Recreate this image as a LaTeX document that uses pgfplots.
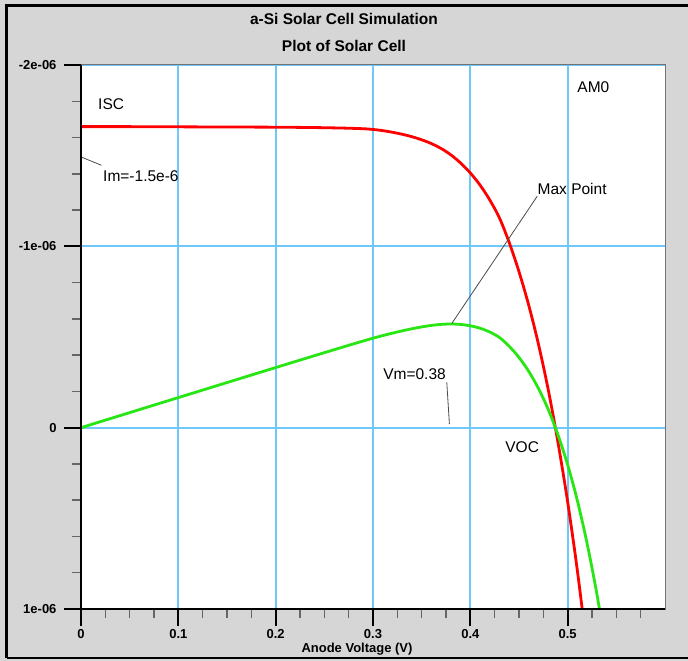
\documentclass[border=0pt]{standalone}
\usepackage{pgfplots}
\pgfplotsset{compat=1.18}
\usepackage{fontspec}
\setmainfont{Liberation Sans}
\definecolor{bggray}{RGB}{214,214,214}
\definecolor{gridblue}{RGB}{110,200,250}
\definecolor{curvered}{RGB}{255,0,0}
\definecolor{curvegreen}{RGB}{40,230,20}
\newcommand{\ann}{\fontsize{15.5bp}{18bp}\selectfont}
\newcommand{\tck}{\bfseries\fontsize{13bp}{15bp}\selectfont}
\begin{document}
\begin{tikzpicture}[x=1bp,y=1bp]
\useasboundingbox (0,0) rectangle (688,661);
\fill[bggray] (0,0) rectangle (688,661);
\draw[black, line width=3bp] (6.5,2.5) -- (6.5,655.5) -- (700,655.5);
\draw[black, line width=2bp] (6.5,2.5) -- (700,2.5);
\node[font=\bfseries\fontsize{15.5bp}{18bp}\selectfont] at (344,642) {a-Si Solar Cell Simulation};
\node[font=\bfseries\fontsize{15.5bp}{18bp}\selectfont] at (344,615) {Plot of Solar Cell};
\node[font=\bfseries\fontsize{13bp}{15bp}\selectfont] at (357,12) {Anode Voltage (V)};
\begin{axis}[
  at={(81bp,52bp)}, anchor=south west,
  scale only axis, width=584bp, height=544bp,
  xmin=0, xmax=0.6, ymin=-2, ymax=1, y dir=reverse,
  axis background/.style={fill=white},
  xtick={0,0.1,0.2,0.3,0.4,0.5}, xticklabels={0,0.1,0.2,0.3,0.4,0.5},
  ytick={-2,-1,0,1}, yticklabels={-2e-06,-1e-06,0,1e-06},
  minor xtick={0.025,0.05,0.075,0.125,0.15,0.175,0.225,0.25,0.275,0.325,0.35,0.375,0.425,0.45,0.475,0.525,0.55,0.575},
  minor ytick={-1.8,-1.6,-1.4,-1.2,-0.8,-0.6,-0.4,-0.2,0.2,0.4,0.6,0.8},
  xtick pos=bottom, ytick pos=left,
  tick align=outside,
  major tick length=17bp, minor tick length=9bp,
  every major tick/.style={black, line width=2bp},
  every minor tick/.style={black!60, line width=1.5bp},
  xmajorgrids, ymajorgrids,
  major grid style={gridblue, line width=2bp},
  axis line style={draw=black!55, line width=1bp},
  xticklabel style={font=\tck},
  yticklabel style={font=\tck, xshift=-4bp},
  clip=true,
]
\addplot[curvered, line width=2.8bp, smooth] coordinates {
(0,-1.660) (0.05,-1.660) (0.10,-1.659) (0.15,-1.658) (0.20,-1.657) (0.24,-1.655)
(0.27,-1.652) (0.29,-1.6485) (0.30,-1.6445) (0.31,-1.638) (0.32,-1.629) (0.33,-1.618) (0.34,-1.6045)
(0.35,-1.5875) (0.36,-1.5665) (0.37,-1.5395) (0.38,-1.5045) (0.39,-1.4595) (0.40,-1.4045)
(0.41,-1.3375) (0.42,-1.2555) (0.43,-1.1555) (0.44,-1.02) (0.45,-0.86) (0.46,-0.675)
(0.47,-0.46) (0.48,-0.21) (0.49,0.08) (0.50,0.41) (0.51,0.79) (0.52,1.23) (0.53,1.73) (0.54,2.30)
};
\addplot[curvegreen, line width=2.8bp, smooth] coordinates {
(0,0) (0.05,-0.083) (0.10,-0.1659) (0.15,-0.2487) (0.20,-0.3314) (0.24,-0.3972)
(0.27,-0.446) (0.29,-0.4781) (0.30,-0.4934) (0.31,-0.5078) (0.32,-0.5213) (0.33,-0.5339) (0.34,-0.5455)
(0.35,-0.5556) (0.36,-0.5639) (0.37,-0.5696) (0.38,-0.5717) (0.39,-0.5692) (0.40,-0.5618)
(0.41,-0.5484) (0.42,-0.5273) (0.43,-0.4969) (0.44,-0.4488) (0.45,-0.387) (0.46,-0.3105)
(0.47,-0.2162) (0.48,-0.1008) (0.49,0.0392) (0.50,0.205) (0.51,0.4029) (0.52,0.6396) (0.53,0.9169) (0.54,1.242)
};
\draw[black!70, line width=0.8bp] (axis cs:0,-1.493) -- (axis cs:0.021,-1.447);
\draw[black!70, line width=0.8bp] (axis cs:0.4687,-1.276) -- (axis cs:0.381,-0.575);
\draw[black!70, line width=0.8bp] (axis cs:0.3758,-0.25) -- (axis cs:0.3785,-0.02);
\node[anchor=west, inner sep=0pt, font=\ann] at (axis cs:0.0175,-1.785) {ISC};
\node[anchor=west, inner sep=0pt, font=\ann] at (axis cs:0.0226,-1.387) {Im=-1.5e-6};
\node[anchor=west, inner sep=0pt, font=\ann] at (axis cs:0.5098,-1.878) {AM0};
\node[anchor=west, inner sep=0pt, font=\ann] at (axis cs:0.469,-1.315) {Max Point};
\node[anchor=west, inner sep=0pt, font=\ann] at (axis cs:0.3104,-0.293) {Vm=0.38};
\node[anchor=west, inner sep=0pt, font=\ann] at (axis cs:0.4358,0.108) {VOC};
\end{axis}
\draw[black, line width=1.5bp] (81,52) -- (81,596);
\draw[black, line width=1.5bp] (81,52) -- (665,52);
\end{tikzpicture}
\end{document}
